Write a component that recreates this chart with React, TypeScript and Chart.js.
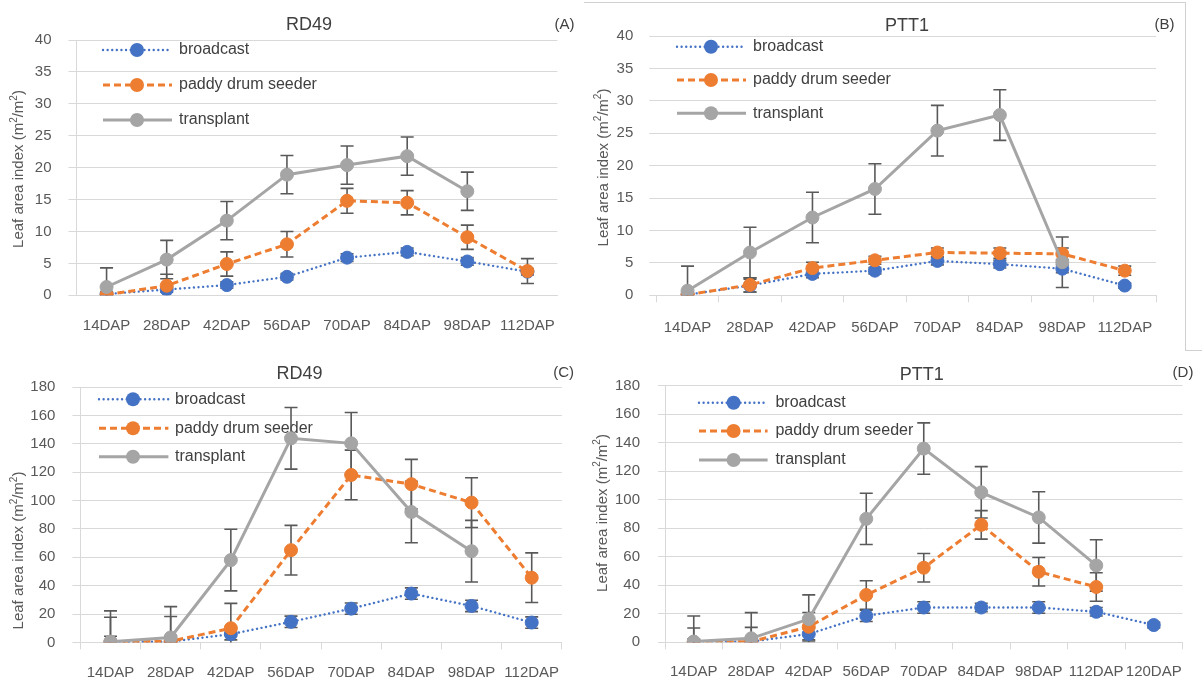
import React, { useEffect, useRef } from "react";
import { Chart, registerables } from "chart.js";

Chart.register(...registerables);

const FONT = "'Liberation Sans', Arial, Helvetica, sans-serif";
const GRID = "#d9d9d9";
const TICK_TEXT = "#595959";
const DARK_TEXT = "#404040";
const ERR_COLOR = "#595959";

// sampling dates (days after planting)
const dap8 = ["14DAP", "28DAP", "42DAP", "56DAP", "70DAP", "84DAP", "98DAP", "112DAP"];
const dap9 = [...dap8, "120DAP"];

const seriesNames = ["broadcast", "paddy drum seeder", "transplant"];

// (A) RD49, 0-40 scale
const rd49BroadcastA = [0.2, 0.9, 1.6, 2.9, 5.9, 6.8, 5.3, 3.7];
const rd49DrumA = [0.1, 1.5, 4.9, 8.0, 14.8, 14.5, 9.1, 3.8];
const rd49TransplantA = [1.3, 5.6, 11.7, 18.9, 20.4, 21.8, 16.3, null];
const rd49BroadcastErrA = [0.3, 0.4, 0.5, 0.5, 0.6, 0.6, 0.6, 0.5];
const rd49DrumErrA = [0.3, 1.8, 1.9, 2.0, 1.95, 1.9, 1.9, 1.95];
const rd49TransplantErrA = [3.0, 3.0, 3.0, 3.0, 3.0, 3.0, 3.0, null];

// (B) PTT1, 0-40 scale
const ptt1BroadcastB = [0.1, 1.5, 3.3, 3.8, 5.3, 4.8, 4.1, 1.5];
const ptt1DrumB = [0.1, 1.6, 4.2, 5.4, 6.6, 6.5, 6.4, 3.8];
const ptt1TransplantB = [0.7, 6.6, 12.0, 16.4, 25.4, 27.8, 5.1, null];
const ptt1BroadcastErrB = [0.2, 1.0, 0.6, 0.5, 0.6, 0.6, 0.6, 0.4];
const ptt1DrumErrB = [0.2, 1.1, 0.9, 0.6, 0.7, 0.8, 0.9, 0.7];
const ptt1TransplantErrB = [3.8, 3.9, 3.9, 3.9, 3.9, 3.9, 3.9, null];

// (C) RD49, 0-180 scale
const rd49BroadcastC = [0.3, 0.5, 5.8, 14.5, 23.8, 34.4, 25.7, 14.0];
const rd49DrumC = [0.2, 0.8, 10.0, 65.0, 118.0, 111.5, 98.5, 45.6];
const rd49TransplantC = [0.5, 3.5, 58.0, 143.8, 140.3, 91.9, 64.3, null];
const rd49BroadcastErrC = [4, 4, 4, 4, 4, 4, 4, 4];
const rd49DrumErrC = [17.5, 17.5, 17.5, 17.5, 17.5, 17.5, 17.5, 17.5];
const rd49TransplantErrC = [21.7, 21.7, 21.7, 21.7, 21.7, 21.7, 21.7, null];

// (D) PTT1, 0-180 scale
const ptt1BroadcastD = [0.3, 0.5, 5.8, 18.6, 24.4, 24.4, 24.4, 21.4, 12.1];
const ptt1DrumD = [0, 0.5, 10.9, 33.2, 52.3, 82.4, 49.5, 38.8, null];
const ptt1TransplantD = [0.5, 2.8, 16.3, 86.6, 135.9, 105.2, 87.6, 53.9, null];
const ptt1BroadcastErrD = [2, 2, 4, 4, 4, 3, 4, 3, 2];
const ptt1DrumErrD = [10, 10, 10, 10, 10, 10, 10, 10, null];
const ptt1TransplantErrD = [18, 18, 17, 18, 18, 18, 18, 18, null];

type Pt = { x: number; y: number };

type Panel = {
  title: string;
  tag: string;
  labels: string[];
  yMax: number;
  yStep: number;
  values: (number | null)[][];
  errors: (number | null)[][];
  box: { left: number; top: number; width: number; height: number };
  area: { l: number; t: number; r: number; b: number };
  yTickLen: number;
  yTickPad: number;
  xTickPad: number;
  xTicks: boolean;
  yBorder: boolean;
  titlePos: Pt;
  tagPos: Pt;
  yTitlePos: Pt;
  legend: { x1: number; x2: number; mx: number; tx: number; ys: number[] };
};

const panels: Panel[] = [
  {
    title: "RD49",
    tag: "(A)",
    labels: dap8,
    yMax: 40,
    yStep: 5,
    values: [rd49BroadcastA, rd49DrumA, rd49TransplantA],
    errors: [rd49BroadcastErrA, rd49DrumErrA, rd49TransplantErrA],
    box: { left: 0, top: 0, width: 584, height: 343 },
    area: { l: 76.5, t: 40, r: 557.5, b: 295.3 },
    yTickLen: 8,
    yTickPad: 17,
    xTickPad: 15,
    xTicks: false,
    yBorder: true,
    titlePos: { x: 309, y: 25 },
    tagPos: { x: 564.5, y: 25 },
    yTitlePos: { x: 19, y: 169 },
    legend: { x1: 103, x2: 172, mx: 137, tx: 179, ys: [50, 85, 120] },
  },
  {
    title: "PTT1",
    tag: "(B)",
    labels: dap8,
    yMax: 40,
    yStep: 5,
    values: [ptt1BroadcastB, ptt1DrumB, ptt1TransplantB],
    errors: [ptt1BroadcastErrB, ptt1DrumErrB, ptt1TransplantErrB],
    box: { left: 584, top: 0, width: 618, height: 343 },
    area: { l: 656.3, t: 36, r: 1156, b: 295.3 },
    yTickLen: 7,
    yTickPad: 16,
    xTickPad: 17,
    xTicks: true,
    yBorder: false,
    titlePos: { x: 907, y: 26 },
    tagPos: { x: 1164.5, y: 25 },
    yTitlePos: { x: 603.7, y: 167.5 },
    legend: { x1: 677, x2: 746, mx: 711, tx: 753, ys: [46.7, 80, 113.3] },
  },
  {
    title: "RD49",
    tag: "(C)",
    labels: dap8,
    yMax: 180,
    yStep: 20,
    values: [rd49BroadcastC, rd49DrumC, rd49TransplantC],
    errors: [rd49BroadcastErrC, rd49DrumErrC, rd49TransplantErrC],
    box: { left: 0, top: 343, width: 584, height: 343 },
    area: { l: 80.4, t: 387, r: 561.8, b: 642.4 },
    yTickLen: 8,
    yTickPad: 17,
    xTickPad: 14,
    xTicks: true,
    yBorder: true,
    titlePos: { x: 299.6, y: 374.3 },
    tagPos: { x: 563.7, y: 373.3 },
    yTitlePos: { x: 19, y: 550.5 },
    legend: { x1: 99, x2: 168.4, mx: 133, tx: 175, ys: [399.3, 428.3, 456.7] },
  },
  {
    title: "PTT1",
    tag: "(D)",
    labels: dap9,
    yMax: 180,
    yStep: 20,
    values: [ptt1BroadcastD, ptt1DrumD, ptt1TransplantD],
    errors: [ptt1BroadcastErrD, ptt1DrumErrD, ptt1TransplantErrD],
    box: { left: 584, top: 343, width: 618, height: 343 },
    area: { l: 665, t: 385.7, r: 1182.5, b: 642.3 },
    yTickLen: 7,
    yTickPad: 18,
    xTickPad: 14,
    xTicks: true,
    yBorder: true,
    titlePos: { x: 921.8, y: 375 },
    tagPos: { x: 1183, y: 373 },
    yTitlePos: { x: 602.5, y: 513 },
    legend: { x1: 699, x2: 767.6, mx: 733.6, tx: 775.4, ys: [402.7, 431, 460] },
  },
];

// line styles of the three sowing methods
const seriesStyles = [
  { color: "#4472C4", width: 2.4, dash: [0.01, 4.6], cap: "round" as CanvasLineCap, order: 2 },
  { color: "#ED7D31", width: 3, dash: [7, 4], cap: "butt" as CanvasLineCap, order: 1 },
  { color: "#A5A5A5", width: 3, dash: [] as number[], cap: "butt" as CanvasLineCap, order: 0 },
];

const X_AXIS_H = 40;
const POINT_R = 6.5;

function drawYTitle(ctx: CanvasRenderingContext2D, cx: number, cy: number) {
  const parts: { t: string; sup: boolean }[] = [
    { t: "Leaf area index (m", sup: false },
    { t: "2", sup: true },
    { t: "/m", sup: false },
    { t: "2", sup: true },
    { t: ")", sup: false },
  ];
  const big = `15px ${FONT}`;
  const small = `10px ${FONT}`;
  ctx.save();
  ctx.translate(cx, cy);
  ctx.rotate(-Math.PI / 2);
  ctx.fillStyle = TICK_TEXT;
  ctx.textBaseline = "middle";
  ctx.textAlign = "left";
  let total = 0;
  for (const p of parts) {
    ctx.font = p.sup ? small : big;
    total += ctx.measureText(p.t).width;
  }
  let x = -total / 2;
  for (const p of parts) {
    ctx.font = p.sup ? small : big;
    ctx.fillText(p.t, x, p.sup ? -5 : 0);
    x += ctx.measureText(p.t).width;
  }
  ctx.restore();
}

function makeDecor(p: Panel) {
  const ox = p.box.left;
  const oy = p.box.top;
  return {
    id: "panelDecor",
    beforeDatasetsDraw(chart: any) {
      const ctx: CanvasRenderingContext2D = chart.ctx;
      const xs = chart.scales.x;
      const ys = chart.scales.y;
      const area = chart.chartArea;
      // legend rows sit inside the plot, under the data lines
      p.legend.ys.forEach((ly, i) => {
        const st = seriesStyles[i];
        const y = ly - oy;
        ctx.save();
        ctx.strokeStyle = st.color;
        ctx.lineWidth = st.width;
        ctx.lineCap = st.cap;
        ctx.setLineDash(st.dash);
        ctx.beginPath();
        ctx.moveTo(p.legend.x1 - ox, y);
        ctx.lineTo(p.legend.x2 - ox, y);
        ctx.stroke();
        ctx.setLineDash([]);
        ctx.fillStyle = st.color;
        ctx.beginPath();
        ctx.arc(p.legend.mx - ox, y, POINT_R + 0.5, 0, Math.PI * 2);
        ctx.fill();
        ctx.fillStyle = DARK_TEXT;
        ctx.font = `16px ${FONT}`;
        ctx.textBaseline = "middle";
        ctx.textAlign = "left";
        ctx.fillText(seriesNames[i], p.legend.tx - ox, y);
        ctx.restore();
      });
      // standard error bars, cut off at the value axis minimum
      ctx.save();
      ctx.beginPath();
      ctx.rect(0, 0, chart.width, area.bottom);
      ctx.clip();
      ctx.strokeStyle = ERR_COLOR;
      ctx.lineWidth = 1.6;
      p.values.forEach((vals, si) => {
        vals.forEach((v, j) => {
          const e = p.errors[si][j];
          if (v == null || e == null) return;
          const x = xs.getPixelForValue(j);
          const yTop = ys.getPixelForValue(v + e);
          const yBot = ys.getPixelForValue(v - e);
          ctx.beginPath();
          ctx.moveTo(x, yTop);
          ctx.lineTo(x, yBot);
          ctx.moveTo(x - 6.5, yTop);
          ctx.lineTo(x + 6.5, yTop);
          ctx.moveTo(x - 6.5, yBot);
          ctx.lineTo(x + 6.5, yBot);
          ctx.stroke();
        });
      });
      ctx.restore();
    },
    afterDraw(chart: any) {
      const ctx: CanvasRenderingContext2D = chart.ctx;
      ctx.save();
      ctx.textAlign = "center";
      ctx.textBaseline = "middle";
      ctx.fillStyle = DARK_TEXT;
      ctx.font = `18px ${FONT}`;
      ctx.fillText(p.title, p.titlePos.x - ox, p.titlePos.y - oy);
      ctx.font = `15px ${FONT}`;
      ctx.fillText(p.tag, p.tagPos.x - ox, p.tagPos.y - oy);
      ctx.restore();
      drawYTitle(ctx, p.yTitlePos.x - ox, p.yTitlePos.y - oy);
    },
  };
}

function PanelChart({ p }: { p: Panel }) {
  const ref = useRef<HTMLCanvasElement | null>(null);
  useEffect(() => {
    if (!ref.current) return;
    const leftW = p.area.l - p.box.left;
    const chart = new Chart(ref.current, {
      type: "line",
      data: {
        labels: p.labels,
        datasets: p.values.map((vals, i) => {
          const st = seriesStyles[i];
          return {
            label: seriesNames[i],
            data: vals,
            borderColor: st.color,
            backgroundColor: st.color,
            borderWidth: st.width,
            borderDash: st.dash,
            borderCapStyle: st.cap,
            pointRadius: POINT_R,
            pointBorderWidth: 1,
            pointBackgroundColor: st.color,
            pointBorderColor: st.color,
            pointHoverRadius: POINT_R,
            tension: 0,
            spanGaps: false,
            fill: false,
            order: st.order,
          };
        }),
      },
      options: {
        responsive: false,
        maintainAspectRatio: false,
        animation: false,
        events: [],
        layout: {
          padding: {
            left: 0,
            top: p.area.t - p.box.top,
            right: p.box.left + p.box.width - p.area.r,
            bottom: p.box.top + p.box.height - p.area.b - X_AXIS_H,
          },
        },
        plugins: {
          legend: { display: false },
          tooltip: { enabled: false },
          title: { display: false },
        },
        scales: {
          x: {
            type: "category",
            offset: true,
            grid: {
              display: true,
              offset: true,
              drawOnChartArea: false,
              drawTicks: true,
              tickLength: 7,
              tickColor: p.xTicks ? GRID : "rgba(0,0,0,0)",
              color: GRID,
            },
            border: { display: true, color: GRID },
            ticks: {
              color: TICK_TEXT,
              font: { family: FONT, size: 15 },
              padding: p.xTickPad,
              autoSkip: false,
              maxRotation: 0,
              minRotation: 0,
            },
            afterFit: (scale: any) => {
              scale.height = X_AXIS_H;
            },
          },
          y: {
            min: 0,
            max: p.yMax,
            grid: {
              color: GRID,
              lineWidth: 1,
              drawTicks: true,
              tickLength: p.yTickLen,
              tickColor: GRID,
            },
            border: { display: p.yBorder, color: GRID },
            ticks: {
              stepSize: p.yStep,
              color: TICK_TEXT,
              font: { family: FONT, size: 15 },
              padding: p.yTickPad,
            },
            afterFit: (scale: any) => {
              scale.width = leftW;
            },
          },
        },
      },
      plugins: [makeDecor(p)],
    } as any);
    return () => chart.destroy();
  }, [p]);
  return (
    <canvas
      ref={ref}
      width={p.box.width}
      height={p.box.height}
      style={{
        position: "absolute",
        left: p.box.left,
        top: p.box.top,
        width: p.box.width,
        height: p.box.height,
      }}
    />
  );
}

export default function App() {
  useEffect(() => {
    document.body.style.margin = "0";
  }, []);
  return (
    <div style={{ position: "relative", width: 1202, height: 686, background: "#fff", overflow: "hidden" }}>
      {panels.map((p) => (
        <PanelChart key={p.tag} p={p} />
      ))}
      {/* frame around panel (B) */}
      <div
        style={{
          position: "absolute",
          left: 584,
          top: 2,
          width: 601,
          height: 348,
          borderTop: "1px solid #d0d0d0",
          borderRight: "1px solid #d0d0d0",
          pointerEvents: "none",
        }}
      />
      <div
        style={{
          position: "absolute",
          left: 1186,
          top: 350,
          width: 16,
          height: 0,
          borderTop: "1px solid #d0d0d0",
          pointerEvents: "none",
        }}
      />
    </div>
  );
}
